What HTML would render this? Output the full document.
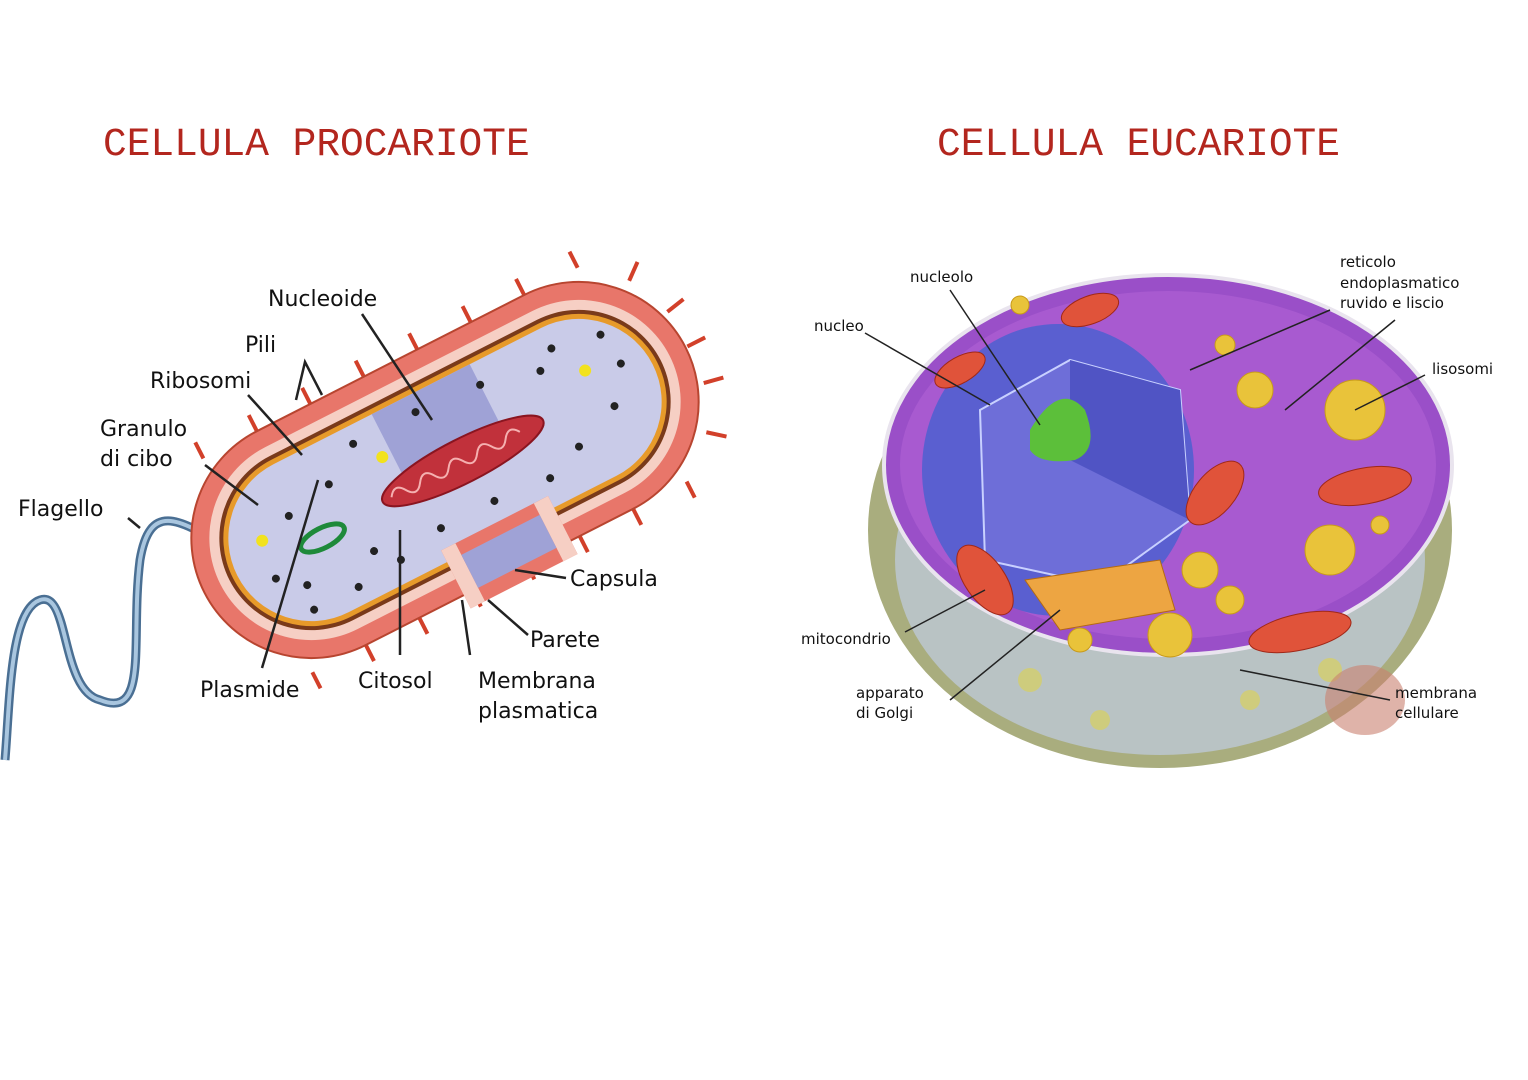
<!DOCTYPE html>
<html><head><meta charset="utf-8"><style>
html,body{margin:0;padding:0;background:#fff}
body{width:1528px;height:1080px;position:relative;overflow:hidden}
.t{position:absolute;font-family:"Liberation Mono",monospace;color:#b3261e;font-size:39.5px}
svg{position:absolute;left:0;top:0}
</style></head><body>
<div class="t" style="left:103px;top:122px">CELLULA PROCARIOTE</div>
<div class="t" style="left:937px;top:122px">CELLULA EUCARIOTE</div>
<svg width="1528" height="1080" viewBox="0 0 1528 1080">
<!-- flagellum -->
<path d="M228,548 C180,520 150,500 140,560 C130,640 150,720 100,700 C60,690 70,590 40,600 C10,610 10,700 5,760" fill="none" stroke="#4a6f93" stroke-width="9"/>
<path d="M228,548 C180,520 150,500 140,560 C130,640 150,720 100,700 C60,690 70,590 40,600 C10,610 10,700 5,760" fill="none" stroke="#a9c6df" stroke-width="4"/>
<g transform="translate(445 470) rotate(-27) translate(-270 -120)">
 <g stroke="#d2402a" stroke-width="4">
  <line x1="60" y1="0" x2="60" y2="-18"/><line x1="120" y1="0" x2="120" y2="-18"/><line x1="180" y1="0" x2="180" y2="-18"/><line x1="240" y1="0" x2="240" y2="-18"/><line x1="300" y1="0" x2="300" y2="-18"/><line x1="360" y1="0" x2="360" y2="-18"/><line x1="420" y1="0" x2="420" y2="-18"/><line x1="480" y1="0" x2="480" y2="-18"/>
  <line x1="60" y1="240" x2="60" y2="258"/><line x1="120" y1="240" x2="120" y2="258"/><line x1="180" y1="240" x2="180" y2="258"/><line x1="240" y1="240" x2="240" y2="258"/><line x1="300" y1="240" x2="300" y2="258"/><line x1="360" y1="240" x2="360" y2="258"/><line x1="420" y1="240" x2="420" y2="258"/><line x1="480" y1="240" x2="480" y2="258"/>
  <line x1="540" y1="80" x2="560" y2="76"/><line x1="542" y1="120" x2="562" y2="120"/><line x1="540" y1="160" x2="560" y2="164"/><line x1="520" y1="35" x2="536" y2="22"/><line x1="520" y1="205" x2="536" y2="218"/>
 </g>
 <rect x="0" y="0" width="540" height="240" rx="120" fill="#e8766a" stroke="#b84530" stroke-width="2"/>
 <rect x="18" y="18" width="504" height="204" rx="102" fill="#f6cfc4"/>
 <rect x="28" y="28" width="484" height="184" rx="92" fill="#7a3a1a"/>
 <rect x="32" y="32" width="476" height="176" rx="88" fill="#e79a2a"/>
 <rect x="37" y="37" width="466" height="166" rx="83" fill="#c9cbe8"/>
 <polygon points="230,37 340,37 340,120 230,120" fill="#9fa2d6"/>
 <polygon points="230,190 350,190 350,255 230,255" fill="#e8766a"/>
 <polygon points="230,190 246,190 246,255 230,255" fill="#f6cfc4"/>
 <polygon points="334,190 350,190 350,255 334,255" fill="#f6cfc4"/>
 <polygon points="246,203 334,203 334,240 246,240" fill="#9fa2d6"/>
 <ellipse cx="290" cy="120" rx="90" ry="22" fill="#c1313b" stroke="#8a1520" stroke-width="2"/>
 <path d="M210,120 q8,-12 16,0 t16,0 t16,0 t16,0 t16,0 t16,0 t16,0 t16,0 t16,0" fill="none" stroke="#f5b0b0" stroke-width="2"/>
 <ellipse cx="130" cy="125" rx="24" ry="10" fill="none" stroke="#1e8a3a" stroke-width="5"/>
 <circle cx="75" cy="100" r="6" fill="#f2e21d"/><circle cx="220" cy="80" r="6" fill="#f2e21d"/><circle cx="440" cy="95" r="6" fill="#f2e21d"/>
 <g fill="#222">
  <circle cx="70" cy="140" r="4"/><circle cx="95" cy="160" r="4"/><circle cx="110" cy="90" r="4"/><circle cx="160" cy="80" r="4"/><circle cx="170" cy="160" r="4"/><circle cx="190" cy="180" r="4"/><circle cx="140" cy="185" r="4"/><circle cx="400" cy="160" r="4"/><circle cx="420" cy="60" r="4"/><circle cx="450" cy="140" r="4"/><circle cx="475" cy="105" r="4"/><circle cx="400" cy="75" r="4"/><circle cx="240" cy="170" r="4"/><circle cx="300" cy="170" r="4"/><circle cx="360" cy="175" r="4"/><circle cx="90" cy="185" r="4"/><circle cx="470" cy="70" r="4"/><circle cx="200" cy="55" r="4"/><circle cx="270" cy="55" r="4"/><circle cx="340" cy="60" r="4"/>
 </g>
</g>
<g stroke="#222" stroke-width="2.5" fill="none">
 <line x1="362" y1="314" x2="432" y2="420"/>
 <polyline points="296,400 305,362 322,395"/>
 <line x1="248" y1="395" x2="302" y2="455"/>
 <line x1="205" y1="465" x2="258" y2="505"/>
 <line x1="128" y1="518" x2="140" y2="528"/>
 <line x1="262" y1="668" x2="318" y2="480"/>
 <line x1="400" y1="655" x2="400" y2="530"/>
 <line x1="470" y1="655" x2="462" y2="600"/>
 <line x1="528" y1="635" x2="488" y2="600"/>
 <line x1="566" y1="578" x2="515" y2="570"/>
</g>
<g font-family="'DejaVu Sans',sans-serif" font-size="22" fill="#111">
 <text x="268" y="306">Nucleoide</text><text x="245" y="352">Pili</text><text x="150" y="388">Ribosomi</text>
 <text x="100" y="436">Granulo</text><text x="100" y="466">di cibo</text><text x="18" y="516">Flagello</text>
 <text x="570" y="586">Capsula</text><text x="530" y="647">Parete</text><text x="200" y="697">Plasmide</text>
 <text x="358" y="688">Citosol</text><text x="478" y="688">Membrana</text><text x="478" y="718">plasmatica</text>
</g>
<!-- eukaryote -->
<ellipse cx="1160" cy="530" rx="292" ry="238" fill="#a9ad7e"/>
<ellipse cx="1160" cy="560" rx="265" ry="195" fill="#b9c3c4"/>
<g fill="#d8d060" opacity="0.7"><circle cx="1030" cy="680" r="12"/><circle cx="1100" cy="720" r="10"/><circle cx="1250" cy="700" r="10"/><circle cx="1330" cy="670" r="12"/></g>
<ellipse cx="1365" cy="700" rx="40" ry="35" fill="#c98070" opacity="0.6"/>
<ellipse cx="1168" cy="465" rx="284" ry="190" fill="#9a4fc8" stroke="#e9e4ee" stroke-width="4"/>
<ellipse cx="1168" cy="465" rx="268" ry="174" fill="#a85ad0"/>
<ellipse cx="1058" cy="470" rx="136" ry="146" fill="#5a5fd0"/>
<polygon points="980,410 1070,360 1180,390 1190,520 1100,585 985,560" fill="#6e6ed8" stroke="#c8d0ff" stroke-width="2"/>
<polygon points="1070,360 1180,390 1190,520 1070,460" fill="#5054c4"/>
<path d="M1030,430 Q1060,380 1085,410 Q1100,450 1075,460 Q1040,465 1030,450Z" fill="#5cbf3a"/>
<g fill="#e9c33a" stroke="#c89a1a">
 <circle cx="1355" cy="410" r="30"/><circle cx="1255" cy="390" r="18"/><circle cx="1330" cy="550" r="25"/><circle cx="1200" cy="570" r="18"/><circle cx="1230" cy="600" r="14"/><circle cx="1170" cy="635" r="22"/><circle cx="1080" cy="640" r="12"/><circle cx="1020" cy="305" r="9"/><circle cx="1380" cy="525" r="9"/><circle cx="1225" cy="345" r="10"/>
</g>
<path d="M1025,580 L1160,560 L1175,610 L1060,630Z" fill="#eda542" stroke="#b56a10"/>
<g fill="#e0533a" stroke="#a02818">
 <ellipse cx="1365" cy="486" rx="47" ry="18" transform="rotate(-10 1365 486)"/>
 <ellipse cx="1300" cy="632" rx="52" ry="18" transform="rotate(-12 1300 632)"/>
 <ellipse cx="985" cy="580" rx="20" ry="40" transform="rotate(-35 985 580)"/>
 <ellipse cx="1215" cy="493" rx="20" ry="38" transform="rotate(40 1215 493)"/>
 <ellipse cx="1090" cy="310" rx="30" ry="14" transform="rotate(-20 1090 310)"/>
 <ellipse cx="960" cy="370" rx="28" ry="13" transform="rotate(-30 960 370)"/>
</g>
<g stroke="#222" stroke-width="1.5" fill="none">
 <line x1="950" y1="290" x2="1040" y2="425"/><line x1="865" y1="333" x2="990" y2="405"/>
 <line x1="1330" y1="310" x2="1190" y2="370"/><line x1="1395" y1="320" x2="1285" y2="410"/>
 <line x1="1425" y1="375" x2="1355" y2="410"/><line x1="905" y1="632" x2="985" y2="590"/>
 <line x1="950" y1="700" x2="1060" y2="610"/><line x1="1390" y1="700" x2="1240" y2="670"/>
</g>
<g font-family="'DejaVu Sans',sans-serif" font-size="15" fill="#111">
 <text x="910" y="282">nucleolo</text><text x="814" y="331">nucleo</text>
 <text x="1340" y="267">reticolo</text><text x="1340" y="288">endoplasmatico</text><text x="1340" y="308">ruvido  e liscio</text>
 <text x="1432" y="374">lisosomi</text><text x="801" y="644">mitocondrio</text>
 <text x="856" y="698">apparato</text><text x="856" y="718">di Golgi</text>
 <text x="1395" y="698">membrana</text><text x="1395" y="718">cellulare</text>
</g>
</svg>
</body></html>
